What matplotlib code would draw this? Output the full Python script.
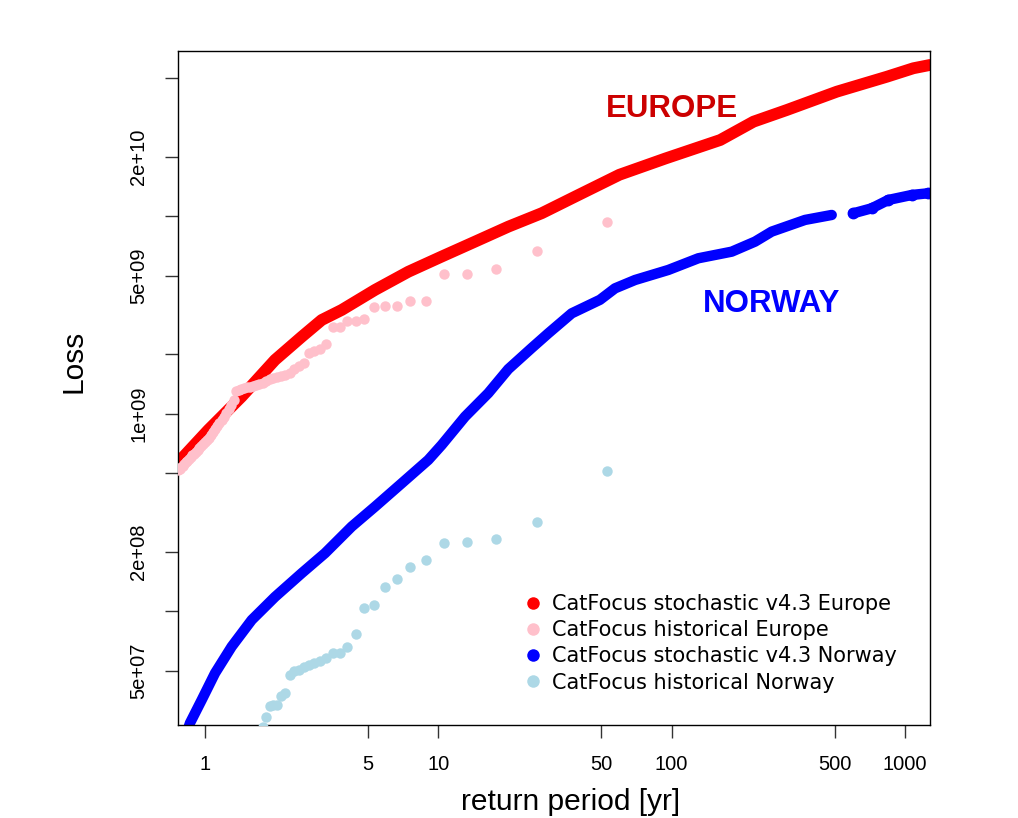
import matplotlib
matplotlib.use('Agg')
import matplotlib.pyplot as plt
from matplotlib.lines import Line2D

# stochastic exceedance curves (return period [yr], loss)
europe_stoch_rp = [0.766, 1.033, 1.436, 1.995, 2.597, 3.163, 3.855, 5.35, 7.44, 10.33, 14.37,
                   19.97, 27.76, 38.6, 59.7, 94.2, 161.6, 224.5, 312.2, 510.9, 835.9, 1087, 1281]
europe_stoch_loss = [5.65e8, 8.27e8, 1.22e9, 1.87e9, 2.45e9, 2.98e9, 3.35e9, 4.23e9, 5.23e9, 6.24e9, 7.43e9,
                     8.85e9, 1.035e10, 1.256e10, 1.62e10, 1.96e10, 2.43e10, 3.01e10, 3.45e10, 4.27e10, 5.08e10,
                     5.61e10, 5.83e10]

norway_stoch_rp = [0.829, 0.862, 0.968, 1.104, 1.301, 1.586, 1.995, 2.597, 3.269, 4.254, 5.355, 6.97,
                   9.06, 10.34, 13.02, 16.38, 19.95, 25.14, 29.6, 37.3, 49.3, 57.2, 69.7, 96.8, 130.2,
                   181.0, 227.8, 268.5, 373.2, 485.6]
norway_stoch_loss = [2.36e7, 2.71e7, 3.55e7, 4.85e7, 6.61e7, 9.02e7, 1.18e8, 1.556e8, 1.965e8, 2.68e8,
                     3.38e8, 4.44e8, 5.83e8, 6.94e8, 9.66e8, 1.27e9, 1.68e9, 2.15e9, 2.55e9, 3.22e9,
                     3.77e9, 4.31e9, 4.75e9, 5.34e9, 6.12e9, 6.61e9, 7.43e9, 8.35e9, 9.57e9, 1.014e10]
# sparse tail of the Norway curve (after the visible gap)
norway_tail_rp = [600.8, 720.5, 848.9, 1069, 1259]
norway_tail_loss = [1.034e10, 1.096e10, 1.208e10, 1.28e10, 1.306e10]

# historical events, ranked
hist_rp = [53.0, 26.5, 17.67, 13.25, 10.6, 8.833, 7.571, 6.625, 5.889, 5.3,
           4.818, 4.417, 4.077, 3.786, 3.533, 3.313, 3.118, 2.944, 2.789, 2.65,
           2.524, 2.409, 2.304, 2.208, 2.12, 2.038, 1.963, 1.893, 1.828, 1.767,
           1.71, 1.656, 1.606, 1.559, 1.514, 1.472, 1.432, 1.395, 1.359, 1.325,
           1.293, 1.262, 1.233, 1.205, 1.178, 1.152, 1.128, 1.104, 1.082, 1.06,
           1.039, 1.019, 1.0, 0.981, 0.964, 0.946, 0.93, 0.914, 0.898, 0.883,
           0.869, 0.855, 0.841, 0.828, 0.815, 0.803, 0.791, 0.779, 0.768]
europe_hist_loss = [9.31e9, 6.67e9, 5.38e9, 5.12e9, 5.12e9, 3.72e9, 3.71e9, 3.51e9, 3.49e9, 3.47e9,
                    3.02e9, 2.96e9, 2.96e9, 2.75e9, 2.75e9, 2.25e9, 2.13e9, 2.07e9, 2.03e9, 1.81e9,
                    1.74e9, 1.69e9, 1.61e9, 1.57e9, 1.55e9, 1.53e9, 1.52e9, 1.49e9, 1.47e9, 1.43e9,
                    1.41e9, 1.40e9, 1.38e9, 1.37e9, 1.36e9, 1.35e9, 1.33e9, 1.32e9, 1.30e9, 1.17e9,
                    1.11e9, 1.06e9, 1.01e9, 9.62e8, 9.29e8, 8.97e8, 8.66e8, 8.37e8, 8.07e8, 7.80e8,
                    7.53e8, 7.36e8, 7.19e8, 7.02e8, 6.86e8, 6.70e8, 6.55e8, 6.40e8, 6.25e8, 6.14e8,
                    6.04e8, 5.90e8, 5.76e8, 5.66e8, 5.56e8, 5.43e8, 5.34e8, 5.25e8, 5.19e8]
norway_hist_loss = [5.13e8, 2.82e8, 2.31e8, 2.23e8, 2.20e8, 1.81e8, 1.68e8, 1.46e8, 1.32e8, 1.08e8,
                    1.04e8, 7.64e7, 6.59e7, 6.14e7, 6.13e7, 5.82e7, 5.58e7, 5.45e7, 5.34e7, 5.24e7,
                    5.04e7, 4.98e7, 4.75e7, 3.87e7, 3.72e7, 3.35e7, 3.35e7, 3.32e7, 2.92e7, 2.60e7]

x_ticks = [1, 5, 10, 50, 100, 500, 1000]
x_tick_labels = ['1', '5', '10', '50', '100', '500', '1000']
y_ticks = [5e7, 1e8, 2e8, 5e8, 1e9, 2e9, 5e9, 1e10, 2e10, 5e10]
y_tick_labels = ['5e+07', '', '2e+08', '', '1e+09', '', '5e+09', '', '2e+10', '']

legend_labels = ['CatFocus stochastic v4.3 Europe', 'CatFocus historical Europe',
                 'CatFocus stochastic v4.3 Norway', 'CatFocus historical Norway']
legend_colors = ['red', 'pink', 'blue', 'lightblue']

plt.rcParams['font.family'] = ['Liberation Sans', 'DejaVu Sans']

W, H = 1018, 818
fig = plt.figure(figsize=(W / 100, H / 100), dpi=100)
ax = fig.add_axes([178 / W, 1 - 725 / H, (930 - 178) / W, (725 - 51) / H])

ax.set_xscale('log')
ax.set_yscale('log')

ax.plot(europe_stoch_rp, europe_stoch_loss, color='red', lw=8.5,
        solid_capstyle='round', solid_joinstyle='round', zorder=2)
ax.plot(hist_rp, europe_hist_loss, 'o', color='pink', ms=7.5, mec='none', zorder=3)
ax.plot(norway_stoch_rp, norway_stoch_loss, color='blue', lw=7.5,
        solid_capstyle='round', solid_joinstyle='round', zorder=2)
ax.plot(norway_tail_rp, norway_tail_loss, color='blue', lw=7.5, marker='o', ms=7.5,
        solid_capstyle='round', solid_joinstyle='round', zorder=2)
ax.plot(hist_rp[:len(norway_hist_loss)], norway_hist_loss, 'o', color='lightblue',
        ms=7.5, mec='none', zorder=3)

ax.text(100, 3.19e10, 'EUROPE', color='#CC0000', fontsize=22.5, fontweight='bold',
        ha='center', va='baseline')
ax.text(268, 3.28e9, 'NORWAY', color='blue', fontsize=22.5, fontweight='bold',
        ha='center', va='baseline')

ax.set_xlim(0.766, 1281)
ax.set_ylim(2.65e7, 6.86e10)
ax.minorticks_off()
ax.set_xticks(x_ticks)
ax.set_xticklabels(x_tick_labels)
ax.set_yticks(y_ticks)
ax.set_yticklabels(y_tick_labels, rotation=90, va='center')
ax.tick_params(length=9.5, width=1.0, pad=12, labelsize=14.5, color='#333333')
for sp in ax.spines.values():
    sp.set_linewidth(1.0)

fig.text(74 / W, 1 - 361 / H, 'Loss', rotation=90, ha='center', va='center', fontsize=21.5)
fig.text(571 / W, 1 - 810 / H, 'return period [yr]', ha='center', va='baseline', fontsize=21.5)

handles = [Line2D([], [], ls='none', marker='o', ms=9, color=c, mec='none') for c in legend_colors]
fig.legend(handles, legend_labels, loc='upper left', bbox_to_anchor=(522.6 / W, 1 - 593.8 / H),
           frameon=False, prop={'family': 'DejaVu Sans', 'size': 15},
           handlelength=1.0, handletextpad=0.4, labelspacing=0.3,
           borderpad=0, borderaxespad=0)

fig.savefig('out.png', dpi=100)
